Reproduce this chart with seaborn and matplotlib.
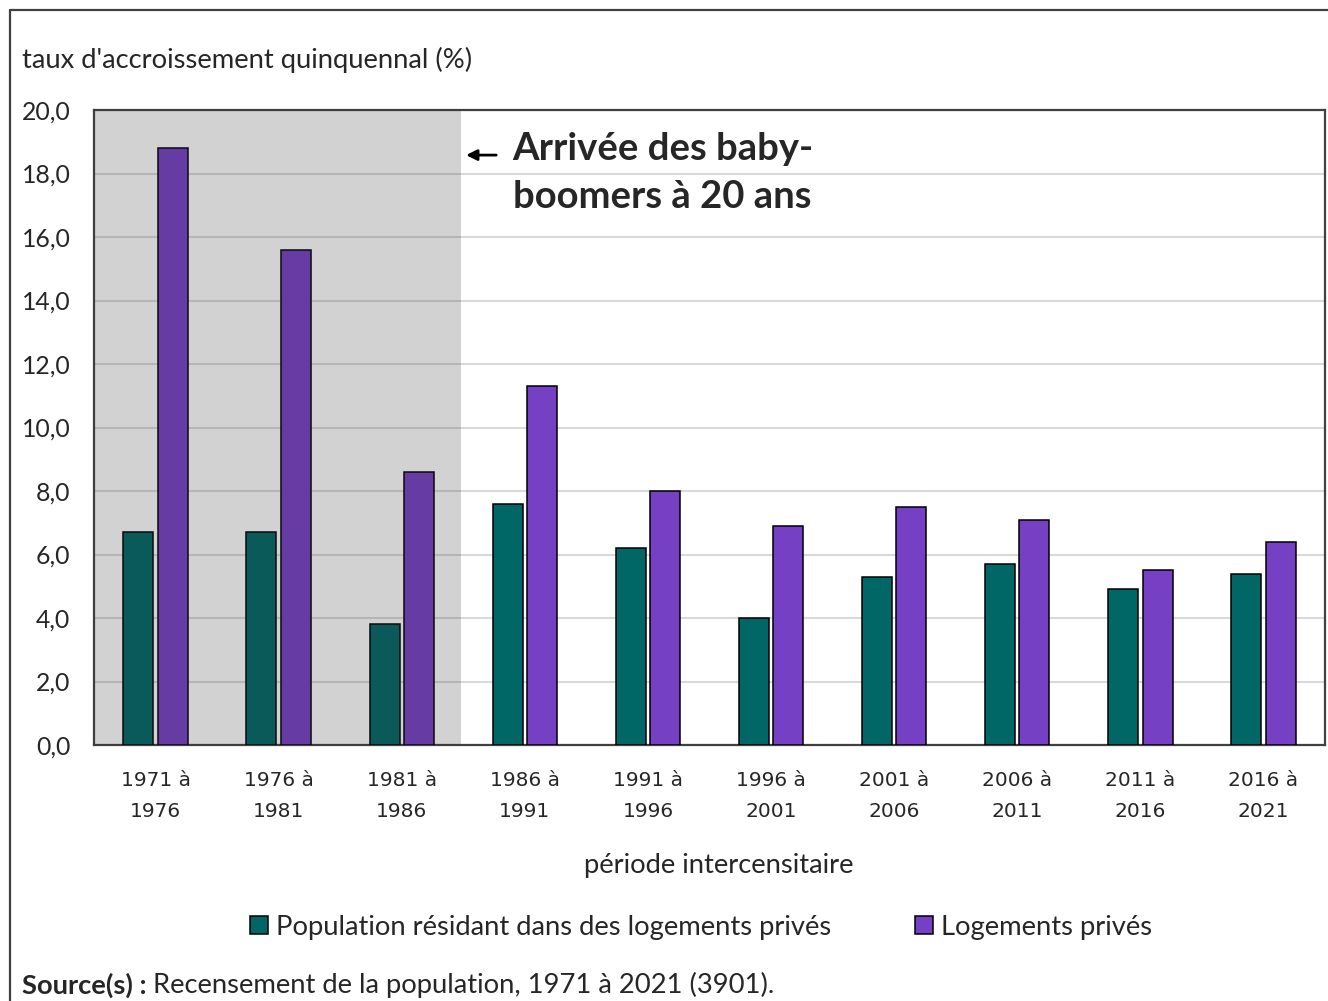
import numpy as np
import pandas as pd
import matplotlib.pyplot as plt
import seaborn as sns
from matplotlib.lines import Line2D

# data
periodes = ["1971 à\n1976", "1976 à\n1981", "1981 à\n1986", "1986 à\n1991", "1991 à\n1996",
            "1996 à\n2001", "2001 à\n2006", "2006 à\n2011", "2011 à\n2016", "2016 à\n2021"]
population = [6.7, 6.7, 3.8, 7.6, 6.2, 4.0, 5.3, 5.7, 4.9, 5.4]
logements = [18.8, 15.6, 8.6, 11.3, 8.0, 6.9, 7.5, 7.1, 5.5, 6.4]
series = ["Population résidant dans des logements privés", "Logements privés"]
couleurs = ["#006666", "#7540c4"]

df = pd.DataFrame({
    "periode": periodes * 2,
    "serie": [series[0]] * len(periodes) + [series[1]] * len(periodes),
    "taux": population + logements,
})

sns.set_style("white")
plt.rcParams['font.family'] = ['Lato', 'DejaVu Sans']

fig = plt.figure(figsize=(13.28, 10.01), dpi=100)
ax = fig.add_axes([94 / 1328, 1 - 745 / 1001, (1325 - 94) / 1328, (745 - 110) / 1001])

sns.barplot(data=df, x="periode", y="taux", hue="serie", palette=couleurs, saturation=1,
            width=0.56, gap=0.13, edgecolor="black", linewidth=1.1, ax=ax, zorder=3)

# shaded zone (overlay, darkens the bars a bit)
ax.axvspan(-0.5, 2.48, color="#323232", alpha=0.215, lw=0, zorder=4)

ax.set_xlim(-0.5, len(periodes) - 0.5)
ax.set_ylim(0, 20)
ax.set_yticks(np.arange(0, 20.1, 2))
ax.set_yticklabels([f"{v:.1f}".replace(".", ",") for v in np.arange(0, 20.1, 2)], fontsize=17.8)
ax.grid(axis="y", color="#d9d9d9", lw=1.5, zorder=0)
ax.set_axisbelow(True)
ax.tick_params(axis="x", length=0, pad=19, labelsize=14.5)
ax.tick_params(axis="y", length=0, pad=17)
for lab in ax.get_xticklabels():
    lab.set_family("DejaVu Sans")
    lab.set_color("#262626")
    lab.set_linespacing(1.75)
for lab in ax.get_yticklabels():
    lab.set_color("#262626")
ax.set_xlabel("")
ax.set_ylabel("")
for sp in ax.spines.values():
    sp.set_visible(True)
    sp.set_color("#404040")
    sp.set_linewidth(1.6)

# annotation
ax.annotate("", xy=(2.5, 18.58), xytext=(2.79, 18.58),
            arrowprops=dict(arrowstyle="-|>", color="black", lw=2, mutation_scale=16), zorder=6)
ax.text(2.9, 18.0, "Arrivée des baby-\nboomers à 20 ans", fontsize=27.5, fontweight="bold",
        va="center", ha="left", linespacing=1.5, zorder=6)

sns.move_legend(ax, "center", bbox_to_anchor=(701 / 1328, 1 - 927 / 1001),
                bbox_transform=fig.transFigure, ncol=2, frameon=False, title=None,
                fontsize=19.7, handlelength=0.65, handleheight=0.65, handletextpad=0.3,
                columnspacing=3.05)

fig.text(22 / 1328, 1 - 60 / 1001, "taux d'accroissement quinquennal (%)", fontsize=19.7,
         va="center", ha="left", color="#262626")
fig.text(719 / 1328, 1 - 866 / 1001, "période intercensitaire", fontsize=19.7,
         va="center", ha="center", color="#262626")

src = fig.text(22 / 1328, 1 - 985 / 1001, "Source(s) :", fontsize=19.7, fontweight="bold",
               va="center", ha="left", color="#262626")
fig.canvas.draw()
bb = src.get_window_extent()
fig.text(bb.x1 / 1328 + 6 / 1328, 1 - 985 / 1001, "Recensement de la population, 1971 à 2021 (3901).",
         fontsize=19.7, va="center", ha="left", color="#262626")

# outer frame (top and left edges)
fig.add_artist(Line2D([10 / 1328, 1.0], [1 - 10 / 1001, 1 - 10 / 1001], color="#404040", lw=1.6))
fig.add_artist(Line2D([10 / 1328, 10 / 1328], [0, 1 - 10 / 1001], color="#404040", lw=1.6))

fig.savefig("out.png", dpi=100)
